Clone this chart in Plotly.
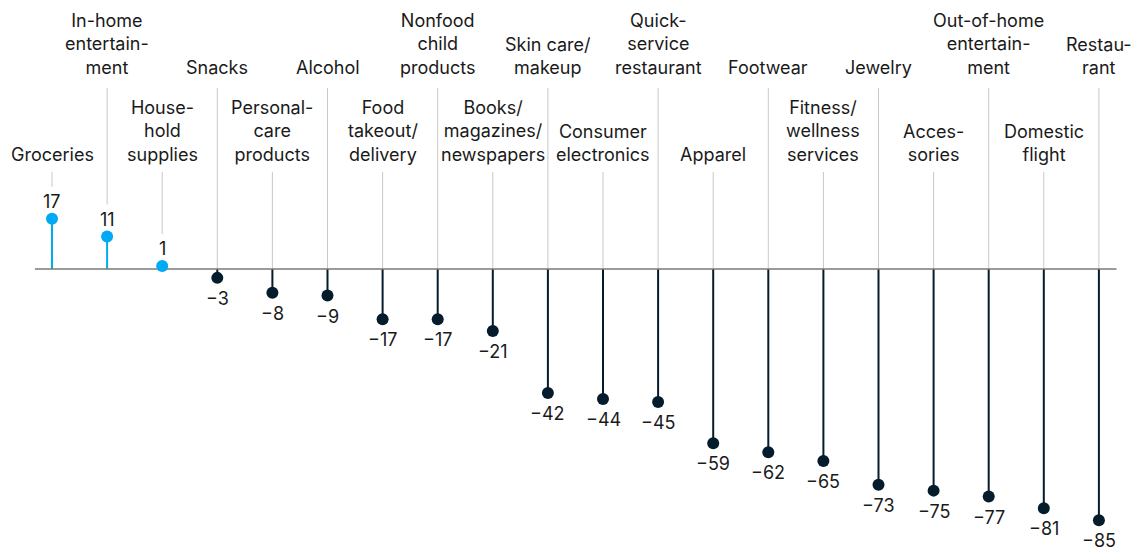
import plotly.graph_objects as go

# Change in spending intent by category, %
categories = [
    "Groceries", "In-home<br>entertain-<br>ment", "House-<br>hold<br>supplies", "Snacks",
    "Personal-<br>care<br>products", "Alcohol", "Food<br>takeout/<br>delivery",
    "Nonfood<br>child<br>products", "Books/<br>magazines/<br>newspapers", "Skin care/<br>makeup",
    "Consumer<br>electronics", "Quick-<br>service<br>restaurant", "Apparel", "Footwear",
    "Fitness/<br>wellness<br>services", "Jewelry", "Acces-<br>sories",
    "Out-of-home<br>entertain-<br>ment", "Domestic<br>flight", "Restau-<br>rant",
]
values = [17, 11, 1, -3, -8, -9, -17, -17, -21, -42, -44, -45, -59, -62, -65, -73, -75, -77, -81, -85]

W, H = 1147, 552
ZERO_PX = 269          # pixel row of the zero line
PX_PER_UNIT = 2.955    # vertical scale
X0_PX, STEP_PX = 52, 55.1

BLUE = "#00A9F4"
NAVY = "#051C2C"
GREY = "#C8C8C8"
TEXT = "#1A1A1A"
FONT = "Inter"


def py(px):
    """Pixel row -> data units on the y axis."""
    return (ZERO_PX - px) / PX_PER_UNIT


xs = list(range(len(categories)))
fig = go.Figure()

# grey leader lines from the category label down to the value
lx, ly = [], []
for i, v in zip(xs, values):
    top = py(88) if i % 2 else py(172)
    bottom = v + 32 / PX_PER_UNIT if v > 0 else 0
    lx += [i, i, None]
    ly += [top, bottom, None]
fig.add_trace(go.Scatter(x=lx, y=ly, mode="lines", line=dict(color=GREY, width=1),
                         hoverinfo="skip", showlegend=False))

# stems
for sign, color in ((1, BLUE), (-1, NAVY)):
    sx, sy = [], []
    for i, v in zip(xs, values):
        if v * sign > 0:
            sx += [i, i, None]
            sy += [0, v, None]
    fig.add_trace(go.Scatter(x=sx, y=sy, mode="lines", line=dict(color=color, width=2),
                             hoverinfo="skip", showlegend=False))

# zero line
fig.add_trace(go.Scatter(x=[-0.31, 19.32], y=[0, 0], mode="lines",
                         line=dict(color="#7A7A7A", width=1.5),
                         hoverinfo="skip", showlegend=False))

# dots
fig.add_trace(go.Scatter(
    x=xs, y=values, mode="markers",
    marker=dict(size=12, color=[BLUE if v > 0 else NAVY for v in values]),
    hoverinfo="skip", showlegend=False))

# value labels
for i, v in zip(xs, values):
    txt = f"{v}" if v >= 0 else f"\u2212{abs(v)}"
    fig.add_annotation(x=i, y=v, text=txt, showarrow=False,
                       font=dict(family=FONT, size=18, color=TEXT),
                       yanchor="bottom" if v > 0 else "top",
                       yshift=5 if v > 0 else -8)

# category labels, alternating between two tiers
for i, c in zip(xs, categories):
    fig.add_annotation(x=i, y=py(80) if i % 2 else py(167), text=c, showarrow=False,
                       font=dict(family=FONT, size=18, color=TEXT),
                       yanchor="bottom", align="center")

x_lo = -X0_PX / STEP_PX
x_hi = (W - X0_PX) / STEP_PX
fig.update_layout(
    width=W, height=H,
    margin=dict(l=0, r=0, t=0, b=0),
    paper_bgcolor="white", plot_bgcolor="white",
    xaxis=dict(range=[x_lo, x_hi], visible=False, fixedrange=True),
    yaxis=dict(range=[py(H), py(0)], visible=False, fixedrange=True),
)

fig.write_html("out.html")
